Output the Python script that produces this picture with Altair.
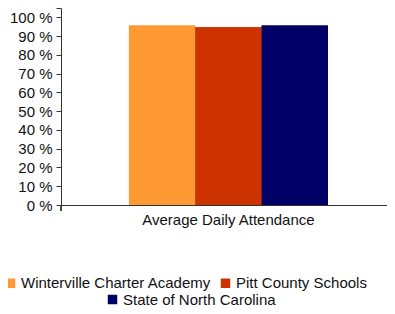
import altair as alt
import pandas as pd

category = "Average Daily Attendance"
series = ["Winterville Charter Academy", "Pitt County Schools", "State of North Carolina"]
values = [95.7, 94.8, 95.7]
colors = ["#FF9933", "#CC3300", "#000066"]
y_ticks = [0, 10, 20, 30, 40, 50, 60, 70, 80, 90, 100, 105]

df = pd.DataFrame({"category": [category] * 3, "series": series, "value": values})

FONT = "Liberation Sans"
AX = "#333333"

x_enc = alt.X("category:N", title=None,
              scale=alt.Scale(paddingInner=0, paddingOuter=0.3191, align=0.535),
              axis=alt.Axis(labelAngle=0, ticks=False, labelPadding=7, labelFontSize=15,
                            labelFont=FONT, labelColor="#111111", domainColor=AX,
                            domainWidth=1, labelLimit=0))
xoff = alt.XOffset("series:N", sort=series, scale=alt.Scale(paddingInner=0, paddingOuter=0))
y_enc = alt.Y("value:Q", title=None,
              scale=alt.Scale(domain=[0, 105], nice=False),
              axis=alt.Axis(values=y_ticks, grid=False, tickSize=5, labelPadding=4,
                            labelFontSize=15, labelFont=FONT, labelColor="#111111",
                            domainColor=AX, tickColor=AX,
                            labelExpr="datum.value > 100 ? '' : datum.value + ' %'"))

leg_common = dict(title=None, orient="none", direction="horizontal",
                  symbolType="square", symbolSize=90, symbolStrokeWidth=0,
                  labelFontSize=15, labelFont=FONT, labelColor="#111111",
                  labelOffset=3, labelLimit=0, padding=0)

bars1 = alt.Chart(df).mark_bar().encode(
    x=x_enc, xOffset=xoff, y=y_enc,
    color=alt.Color("series:N", sort=series,
                    scale=alt.Scale(domain=series, range=colors),
                    legend=alt.Legend(values=series[:2], legendX=-58, legendY=267.5,
                                      columnPadding=6, **leg_common)),
)

bars2 = alt.Chart(df).transform_calculate(series2="datum.series").mark_bar().encode(
    x=x_enc, xOffset=xoff, y=y_enc,
    fill=alt.Fill("series2:N", sort=series,
                  scale=alt.Scale(domain=series, range=colors),
                  legend=alt.Legend(values=series[2:], legendX=44, legendY=284,
                                    **leg_common)),
)

corner = alt.Chart(df).mark_rule(color=AX, strokeWidth=1).encode(
    x=alt.value(0), y=alt.value(197), y2=alt.value(203)
)

chart = alt.layer(bars1, bars2, corner).resolve_scale(color="independent").properties(
    width=326, height=197,
    autosize=alt.AutoSizeParams(type="none"),
    padding={"left": 53, "top": 0, "right": 0, "bottom": 101},
).configure_view(stroke=None)

chart.save("out.html", embed_options={"renderer": "svg", "actions": False})
